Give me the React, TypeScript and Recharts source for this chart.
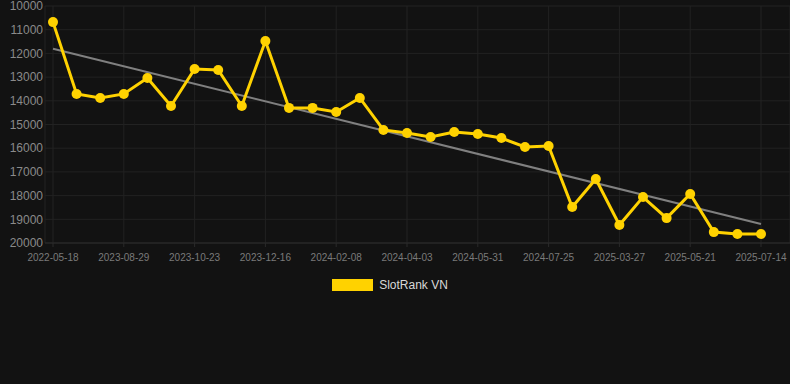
import React from 'react';
import { LineChart, Line, XAxis, YAxis, CartesianGrid, Legend } from 'recharts';

const tickLabels = [
  '2022-05-18', '2023-08-29', '2023-10-23', '2023-12-16', '2024-02-08', '2024-04-03',
  '2024-05-31', '2024-07-25', '2025-03-27', '2025-05-21', '2025-07-14',
];

const ranks = [
  10680, 13710, 13880, 13710, 13040, 14220, 12660, 12700, 14220, 11480,
  14300, 14300, 14470, 13880, 15230, 15360, 15530, 15320, 15400, 15570,
  15950, 15910, 18480, 17300, 19240, 18060, 18950, 17930, 19540, 19620,
  19620,
];

const trendStart = 11800;
const trendEnd = 19200;

const yTicks = [10000, 11000, 12000, 13000, 14000, 15000, 16000, 17000, 18000, 19000, 20000];
const xTicks = tickLabels.map((_, k) => k * 3);

const data = ranks.map((rank, i) => ({
  i,
  rank,
  trend: i === 0 ? trendStart : i === ranks.length - 1 ? trendEnd : null,
}));

const YELLOW = '#ffd200';

const LegendBox = () => (
  <div style={{ display: 'flex', justifyContent: 'center', alignItems: 'center', height: 20, paddingRight: 10, paddingTop: 2 }}>
    <span style={{ width: 41, height: 12, background: YELLOW, marginRight: 6, display: 'inline-block' }} />
    <span style={{ color: '#d8d8d8', fontSize: 12, fontFamily: 'Liberation Sans, Arial, sans-serif' }}>
      SlotRank VN
    </span>
  </div>
);

const App: React.FC = () => {
  return (
    <div style={{ width: 790, height: 384, background: '#121212' }}>
      <style>{'body{margin:0;background:#121212}'}</style>
      <LineChart
        width={790}
        height={384}
        data={data}
        margin={{ top: 6, right: 0, left: 0, bottom: 91 }}
        style={{ fontFamily: 'Liberation Sans, Arial, sans-serif' }}
      >
        <CartesianGrid stroke="#222222" strokeWidth={1} />
        <XAxis
          dataKey="i"
          type="number"
          domain={[0, 30]}
          ticks={xTicks}
          interval={0}
          tickFormatter={(v: number) => tickLabels[v / 3]}
          padding={{ left: 8, right: 29 }}
          height={30}
          tick={{ fill: '#7a7a7a', fontSize: 10 }}
          tickLine={{ stroke: '#2a2a2a' }}
          tickSize={4}
          tickMargin={7}
          axisLine={{ stroke: '#2a2a2a' }}
        />
        <YAxis
          reversed
          domain={[10000, 20000]}
          ticks={yTicks}
          interval={0}
          width={45}
          tick={{ fill: '#8a8a8a', fontSize: 12 }}
          tickLine={false}
          axisLine={false}
          tickSize={0}
          tickMargin={2}
        />
        <Legend height={20} content={<LegendBox />} />
        <Line
          dataKey="trend"
          type="linear"
          connectNulls
          stroke="#808080"
          strokeWidth={2}
          dot={false}
          activeDot={false}
          legendType="none"
          isAnimationActive={false}
        />
        <Line
          dataKey="rank"
          name="SlotRank VN"
          type="linear"
          stroke={YELLOW}
          strokeWidth={3}
          dot={{ r: 5, fill: YELLOW, stroke: YELLOW, strokeWidth: 0 }}
          isAnimationActive={false}
        />
      </LineChart>
    </div>
  );
};

export default App;
